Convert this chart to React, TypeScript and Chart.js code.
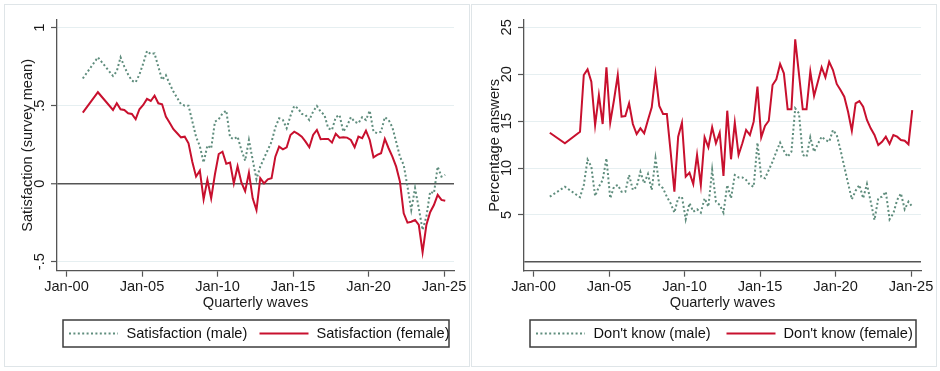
import React, { useEffect, useRef } from "react";
import { Chart, registerables } from "chart.js";

Chart.register(...registerables);

// Survey waves (decimal years, mid-quarter)
const waves = [
  2001.08, 2002.08,
  2003.08, 2003.33, 2003.58, 2003.83,
  2004.08, 2004.33, 2004.58, 2004.83,
  2005.08, 2005.33, 2005.58, 2005.83,
  2006.08, 2006.33, 2006.58, 2006.83,
  2007.08, 2007.33, 2007.58, 2007.83,
  2008.08, 2008.33, 2008.58, 2008.83,
  2009.08, 2009.33, 2009.58, 2009.83,
  2010.08, 2010.33, 2010.58, 2010.83,
  2011.08, 2011.33, 2011.58, 2011.83,
  2012.08, 2012.33, 2012.58, 2012.83,
  2013.08, 2013.33, 2013.58, 2013.83,
  2014.08, 2014.33, 2014.58, 2014.83,
  2015.08, 2015.33, 2015.58, 2015.83,
  2016.08, 2016.33, 2016.58, 2016.83,
  2017.08, 2017.33, 2017.58, 2017.83,
  2018.08, 2018.33, 2018.58, 2018.83,
  2019.08, 2019.33, 2019.58, 2019.83,
  2020.08, 2020.33, 2020.58, 2020.83,
  2021.08, 2021.33, 2021.58, 2021.83,
  2022.08, 2022.33, 2022.58, 2022.83,
  2023.08, 2023.33, 2023.58, 2023.83,
  2024.08, 2024.33, 2024.58, 2024.83,
  2025.08,
];

const satisfactionMale = [
  0.674, 0.81,
  0.69, 0.72, 0.81, 0.75,
  0.7, 0.66, 0.65, 0.7,
  0.77, 0.85, 0.83, 0.835,
  0.75, 0.665, 0.695, 0.64,
  0.59, 0.55, 0.51, 0.5,
  0.5, 0.4, 0.3, 0.24,
  0.135, 0.245, 0.225, 0.397,
  0.413, 0.45, 0.468, 0.297,
  0.285, 0.301, 0.216, 0.147,
  0.28, 0.152, 0.028, 0.109,
  0.163, 0.216, 0.269, 0.361,
  0.419, 0.408, 0.355, 0.434,
  0.498, 0.483, 0.447, 0.44,
  0.408, 0.462, 0.498, 0.462,
  0.44, 0.355, 0.344, 0.426,
  0.44, 0.333, 0.37, 0.426,
  0.397, 0.387, 0.426, 0.408,
  0.468, 0.333, 0.323, 0.333,
  0.426, 0.408, 0.361, 0.269,
  0.173, 0.12, -0.019, -0.169,
  -0.029, -0.158, -0.297, -0.212,
  -0.051, -0.062, 0.109, 0.045,
  0.056,
];

const satisfactionFemale = [
  0.455, 0.586,
  0.472, 0.515, 0.477, 0.472,
  0.451, 0.447, 0.413, 0.477,
  0.504, 0.543, 0.53, 0.564,
  0.515, 0.509, 0.43, 0.391,
  0.349, 0.323, 0.297, 0.301,
  0.259, 0.141, 0.045, 0.083,
  -0.1, 0.024, -0.094, 0.06,
  0.19, 0.205, 0.128, 0.135,
  0.002, 0.111, 0.008, -0.048,
  0.07, -0.094, -0.169, 0.035,
  0.002, 0.028, 0.035, 0.173,
  0.237, 0.22, 0.233, 0.312,
  0.333, 0.319, 0.301, 0.269,
  0.233, 0.312, 0.344, 0.285,
  0.287, 0.287, 0.263, 0.32,
  0.295, 0.297, 0.295, 0.28,
  0.233, 0.301, 0.291, 0.34,
  0.28, 0.169, 0.184, 0.195,
  0.287, 0.227, 0.173, 0.109,
  0.013, -0.19, -0.25, -0.244,
  -0.233, -0.265, -0.44, -0.265,
  -0.183, -0.137, -0.072, -0.104,
  -0.109,
];

const dontKnowMale = [
  6.94, 8.0,
  6.88, 8.19, 10.9, 10.14,
  7.01, 8.0, 8.72, 11.03,
  6.77, 8.0, 8.19, 7.47,
  7.47, 9.25, 7.65, 8.0,
  9.6, 8.37, 9.36, 7.65,
  11.03, 8.19, 7.83, 6.94,
  6.23, 5.24, 6.8, 6.94,
  4.53, 6.25, 5.34, 5.6,
  5.24, 6.77, 5.87, 9.8,
  6.41, 6.06, 5.24, 8.19,
  6.77, 9.25, 9.0, 9.0,
  8.72, 8.19, 8.0, 12.7,
  9.07, 8.9, 9.79, 10.67,
  11.74, 12.7, 11.84, 11.2,
  11.74, 16.36, 15.83, 11.39,
  11.2, 13.27, 11.74, 12.56,
  13.34, 12.98, 12.8, 14.05,
  13.52, 11.92, 10.14, 8.37,
  6.66, 7.58, 8.19, 6.77,
  8.29, 6.41, 4.46, 6.77,
  6.94, 7.47, 4.53, 5.17,
  6.59, 7.3, 5.6, 6.41,
  5.87,
];

const dontKnowFemale = [
  13.76, 12.63,
  13.87, 19.91, 20.52, 19.2,
  14.58, 17.78, 14.69, 20.74,
  14.83, 17.25, 19.91, 15.47,
  15.54, 16.9, 14.69, 13.62,
  14.23, 13.7, 15.12, 16.47,
  20.02, 16.61, 15.76, 15.76,
  11.74, 7.47, 13.34, 14.83,
  9.07, 9.5, 8.29, 11.39,
  8.19, 13.27, 12.21, 14.34,
  12.63, 13.76, 9.15, 16.11,
  10.93, 14.83, 11.39, 12.63,
  14.05, 13.52, 14.94, 18.67,
  13.27, 14.48, 15.04, 18.85,
  19.46, 21.09, 20.1, 16.26,
  16.26, 23.72, 20.0, 16.26,
  16.26, 20.27, 17.68, 19.2,
  20.74, 19.67, 21.33, 20.45,
  18.96, 18.32, 17.6, 16.0,
  13.98, 16.9, 17.14, 16.54,
  15.12, 14.23, 13.52, 12.45,
  12.8, 13.34, 12.56, 13.52,
  13.34, 12.98, 12.91, 12.53,
  16.18,
];

const xTickValues = [2000, 2005, 2010, 2015, 2020, 2025];
const xTickLabels = ["Jan-00", "Jan-05", "Jan-10", "Jan-15", "Jan-20", "Jan-25"];

const satTickValues = [-0.5, 0, 0.5, 1];
const satTickLabels = ["-.5", "0", ".5", "1"];

const dkTickValues = [0, 5, 10, 15, 20, 25];
const dkTickLabels = ["", "5", "10", "15", "20", "25"];

const RED = "#c8102e";
const GREEN = "#5f8d7d";
const AXIS = "#555555";
const GRID = "#e6eff1";
const FONT = "'Liberation Sans', Arial, sans-serif";
const FS = 14.6;

const legendPlugin = {
  id: "stataLegend",
  afterDraw(chart: any) {
    const ctx = chart.ctx;
    const w = chart.width;
    const h = chart.height;
    ctx.save();
    // outer panel frame
    ctx.strokeStyle = "#dfe5e8";
    ctx.lineWidth = 1;
    ctx.strokeRect(0.5, 0.5, w - 1, h - 1);
    // legend frame
    const bx = 59, by = 316, bw = 386, bh = 27;
    ctx.strokeStyle = "#3c3c3c";
    ctx.lineWidth = 1.5;
    ctx.strokeRect(bx, by, bw, bh);
    const cy = by + bh / 2;
    const slots = [
      { x0: 65, x1: 114, tx: 122.5 },
      { x0: 255.5, x1: 304.5, tx: 312.5 },
    ];
    chart.data.datasets.forEach((ds: any, i: number) => {
      const s = slots[i];
      ctx.beginPath();
      ctx.strokeStyle = ds.borderColor;
      ctx.lineWidth = ds.borderWidth;
      ctx.setLineDash(ds.borderDash || []);
      ctx.moveTo(s.x0, cy);
      ctx.lineTo(s.x1, cy);
      ctx.stroke();
      ctx.setLineDash([]);
      ctx.fillStyle = "#111";
      ctx.font = `${FS}px ${FONT}`;
      ctx.textAlign = "left";
      ctx.textBaseline = "middle";
      ctx.fillText(ds.label, s.tx, cy + 0.5);
    });
    ctx.restore();
  },
};

type PanelProps = {
  male: number[];
  female: number[];
  maleLabel: string;
  femaleLabel: string;
  yMin: number;
  yMax: number;
  yTicks: number[];
  yTickLabels: string[];
  yTitle: string;
  zeroTickMark: boolean;
};

function Panel(p: PanelProps) {
  const ref = useRef<HTMLCanvasElement | null>(null);
  useEffect(() => {
    if (!ref.current) return;
    const pts = (vals: number[]) => waves.map((x, i) => ({ x, y: vals[i] }));
    const chart = new Chart(ref.current, {
      type: "line",
      data: {
        datasets: [
          {
            label: p.maleLabel,
            data: pts(p.male),
            borderColor: GREEN,
            borderWidth: 2,
            borderDash: [2, 2.4],
            pointRadius: 0,
            tension: 0,
            order: 1,
          },
          {
            label: p.femaleLabel,
            data: pts(p.female),
            borderColor: RED,
            borderWidth: 2,
            pointRadius: 0,
            tension: 0,
            order: 0,
          },
        ],
      },
      options: {
        animation: false,
        responsive: false,
        devicePixelRatio: 1,
        parsing: false,
        layout: { padding: { top: 16, right: 16, left: 0, bottom: 0 } },
        plugins: { legend: { display: false }, tooltip: { enabled: false } },
        scales: {
          x: {
            type: "linear",
            min: 1999.371,
            max: 2025.66,
            afterBuildTicks: (s: any) => {
              s.ticks = xTickValues.map((v) => ({ value: v }));
            },
            afterFit: (s: any) => {
              s.height = 96.3;
            },
            ticks: {
              autoSkip: false,
              maxRotation: 0,
              minRotation: 0,
              padding: 2,
              color: "#1a1a1a",
              font: { family: FONT, size: FS },
              callback: (v: any) => xTickLabels[xTickValues.indexOf(Number(v))],
            },
            grid: {
              drawOnChartArea: false,
              drawTicks: true,
              tickLength: 6,
              tickColor: AXIS,
              tickWidth: 1.2,
            },
            border: { display: true, color: AXIS, width: 1.3 },
            title: {
              display: true,
              text: "Quarterly waves",
              color: "#1a1a1a",
              font: { family: FONT, size: FS },
              padding: { top: 0, bottom: 55.2 },
            },
          },
          y: {
            type: "linear",
            min: p.yMin,
            max: p.yMax,
            afterBuildTicks: (s: any) => {
              s.ticks = p.yTicks.map((v) => ({ value: v }));
            },
            afterFit: (s: any) => {
              s.width = 53;
            },
            ticks: {
              autoSkip: false,
              minRotation: 90,
              maxRotation: 90,
              crossAlign: "center",
              padding: 2.5,
              color: "#1a1a1a",
              font: { family: FONT, size: FS },
              callback: (v: any) => p.yTickLabels[p.yTicks.indexOf(Number(v))],
            },
            grid: {
              drawTicks: true,
              tickLength: 6,
              color: (c: any) => (c.tick && c.tick.value === 0 ? AXIS : GRID),
              lineWidth: (c: any) => (c.tick && c.tick.value === 0 ? 1.5 : 1),
              tickColor: (c: any) =>
                c.tick && c.tick.value === 0 && !p.zeroTickMark ? "rgba(0,0,0,0)" : AXIS,
              tickWidth: 1.2,
            },
            border: { display: true, color: AXIS, width: 1.3 },
            title: {
              display: true,
              text: p.yTitle,
              color: "#1a1a1a",
              font: { family: FONT, size: FS },
              padding: { top: 15.2, bottom: 0 },
            },
          },
        },
      },
      plugins: [legendPlugin],
    } as any);
    return () => chart.destroy();
  }, []);
  return <canvas ref={ref} width={466} height={363} style={{ width: 466, height: 363, display: "block" }} />;
}

export default function App() {
  return (
    <div style={{ position: "fixed", left: 0, top: 0, width: 940, height: 371, background: "#fff" }}>
      <div style={{ position: "absolute", left: 4, top: 4 }}>
        <Panel
          male={satisfactionMale}
          female={satisfactionFemale}
          maleLabel="Satisfaction (male)"
          femaleLabel="Satisfaction (female)"
          yMin={-0.558}
          yMax={1.049}
          yTicks={satTickValues}
          yTickLabels={satTickLabels}
          yTitle="Satisfaction (survey mean)"
          zeroTickMark={true}
        />
      </div>
      <div style={{ position: "absolute", left: 471, top: 4 }}>
        <Panel
          male={dontKnowMale}
          female={dontKnowFemale}
          maleLabel="Don't know (male)"
          femaleLabel="Don't know (female)"
          yMin={-0.95}
          yMax={25.78}
          yTicks={dkTickValues}
          yTickLabels={dkTickLabels}
          yTitle="Percentage answers"
          zeroTickMark={false}
        />
      </div>
    </div>
  );
}
